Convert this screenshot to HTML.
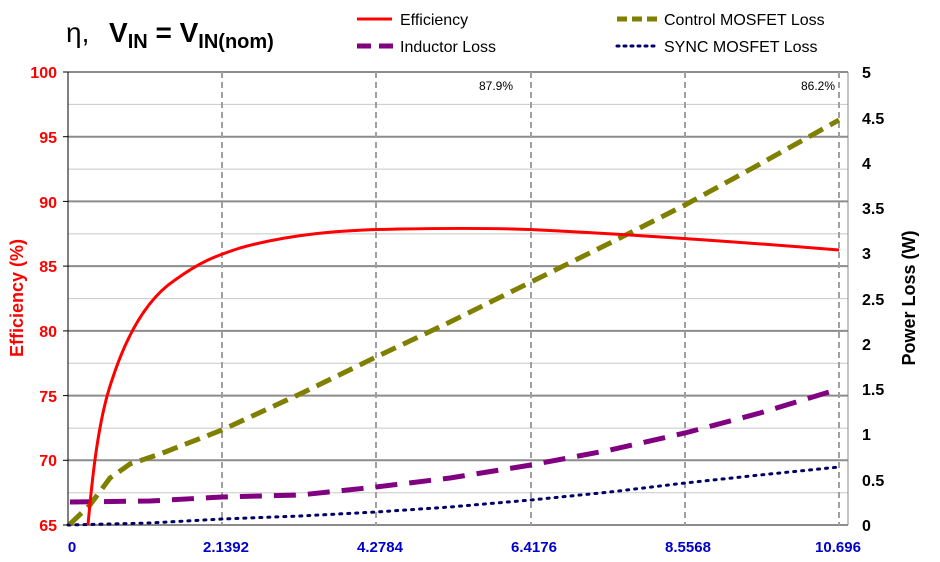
<!DOCTYPE html><html><head><style>body{margin:0;background:#fff}svg{display:block}text{font-family:"Liberation Sans",Arial,sans-serif}</style></head><body>
<svg width="940" height="562" viewBox="0 0 940 562" xmlns="http://www.w3.org/2000/svg">
<rect width="940" height="562" fill="#fff"/>
<g stroke="#c8c8c8" stroke-width="1">
<line x1="68" y1="104.4" x2="848" y2="104.4"/><line x1="68" y1="169.1" x2="848" y2="169.1"/><line x1="68" y1="233.9" x2="848" y2="233.9"/><line x1="68" y1="298.6" x2="848" y2="298.6"/><line x1="68" y1="363.3" x2="848" y2="363.3"/><line x1="68" y1="428.1" x2="848" y2="428.1"/><line x1="68" y1="492.8" x2="848" y2="492.8"/>
</g>
<g stroke="#8c8c8c" stroke-width="2">
<line x1="68" y1="72" x2="848" y2="72"/><line x1="68" y1="136.7" x2="848" y2="136.7"/><line x1="68" y1="201.4" x2="848" y2="201.4"/><line x1="68" y1="266.1" x2="848" y2="266.1"/><line x1="68" y1="330.9" x2="848" y2="330.9"/><line x1="68" y1="395.6" x2="848" y2="395.6"/><line x1="68" y1="460.3" x2="848" y2="460.3"/><line x1="68" y1="525" x2="848" y2="525"/>
</g>
<g stroke="#a0a0a0" stroke-width="2" stroke-dasharray="6,4">
<line x1="222" y1="72" x2="222" y2="525"/><line x1="376" y1="72" x2="376" y2="525"/><line x1="531" y1="72" x2="531" y2="525"/><line x1="685" y1="72" x2="685" y2="525"/><line x1="839" y1="72" x2="839" y2="525"/>
</g>
<line x1="68" y1="72" x2="68" y2="525" stroke="#000" stroke-width="1"/>
<line x1="848" y1="72" x2="848" y2="525" stroke="#888" stroke-width="1"/>
<g stroke="#000"><line x1="63" y1="72" x2="68" y2="72"/><line x1="63" y1="136.7" x2="68" y2="136.7"/><line x1="63" y1="201.4" x2="68" y2="201.4"/><line x1="63" y1="266.1" x2="68" y2="266.1"/><line x1="63" y1="330.9" x2="68" y2="330.9"/><line x1="63" y1="395.6" x2="68" y2="395.6"/><line x1="63" y1="460.3" x2="68" y2="460.3"/><line x1="63" y1="525" x2="68" y2="525"/></g>
<g font-size="16" font-weight="bold" fill="#ff0000" text-anchor="end">
<text x="57" y="78">100</text><text x="57" y="143">95</text><text x="57" y="208">90</text><text x="57" y="272">85</text><text x="57" y="337">80</text><text x="57" y="402">75</text><text x="57" y="466">70</text><text x="57" y="531">65</text></g>
<g font-size="16" font-weight="bold" fill="#000" text-anchor="start">
<text x="862" y="78">5</text><text x="862" y="124">4.5</text><text x="862" y="169">4</text><text x="862" y="214">3.5</text><text x="862" y="259">3</text><text x="862" y="305">2.5</text><text x="862" y="350">2</text><text x="862" y="395">1.5</text><text x="862" y="440">1</text><text x="862" y="486">0.5</text><text x="862" y="531">0</text></g>
<g font-size="15" font-weight="bold" fill="#0000cc" text-anchor="middle">
<text x="72" y="552">0</text><text x="226" y="552">2.1392</text><text x="380" y="552">4.2784</text><text x="534" y="552">6.4176</text><text x="688" y="552">8.5568</text><text x="838" y="552">10.696</text></g>
<text transform="translate(23,298) rotate(-90)" font-size="18" font-weight="bold" fill="#ff0000" text-anchor="middle">Efficiency (%)</text>
<text transform="translate(915,298) rotate(-90)" font-size="18" font-weight="bold" fill="#000" text-anchor="middle">Power Loss (W)</text>
<text x="66" y="42" font-size="28" fill="#000">η,</text>
<text x="109" y="42" font-size="28" font-weight="bold" fill="#000">V<tspan font-size="20" dy="6">IN</tspan><tspan dy="-6"> = V</tspan><tspan font-size="20" dy="6">IN(nom)</tspan></text>
<text x="496" y="90" font-size="12" text-anchor="middle">87.9%</text>
<text x="818" y="90" font-size="12" text-anchor="middle">86.2%</text>
<polyline fill="none" stroke="#000066" stroke-width="3" stroke-dasharray="2,6" stroke-linecap="round" points="68,525 150,523 222,519 300,516 376,512 450,507 531,500 610,492 685,483 760,475 839,467"/>
<polyline fill="none" stroke="#800080" stroke-width="5" stroke-dasharray="22,12" points="70,502 150,501 222,497 300,495 376,487 450,478 531,465 610,450 685,433 760,413 839,389"/>
<polyline fill="none" stroke="#808000" stroke-width="5" stroke-dasharray="16,8" points="70,524 90,505 110,478 130,464 160,454 222,430 300,394 376,357 450,322 531,282 610,243 685,205 760,164 839,120"/>
<path fill="none" stroke="#ff0000" stroke-width="3" d="M88,525 C92,480 98,420 112,380 C125,340 145,300 175,280 C200,262 215,256 240,248 C290,234 340,230 400,229 C460,228 500,228 540,230 C640,235 740,242 839,250"/>
<line x1="357" y1="19" x2="392" y2="19" stroke="#ff0000" stroke-width="3"/>
<text x="400" y="25" font-size="16">Efficiency</text>
<line x1="357" y1="46" x2="394" y2="46" stroke="#800080" stroke-width="5" stroke-dasharray="14,8"/>
<text x="400" y="52" font-size="16">Inductor Loss</text>
<line x1="617" y1="19" x2="657" y2="19" stroke="#808000" stroke-width="5" stroke-dasharray="10,5"/>
<text x="664" y="25" font-size="16">Control MOSFET Loss</text>
<line x1="617" y1="46" x2="657" y2="46" stroke="#000066" stroke-width="3" stroke-dasharray="2,5" stroke-linecap="round"/>
<text x="664" y="52" font-size="16">SYNC MOSFET Loss</text>
</svg></body></html>
